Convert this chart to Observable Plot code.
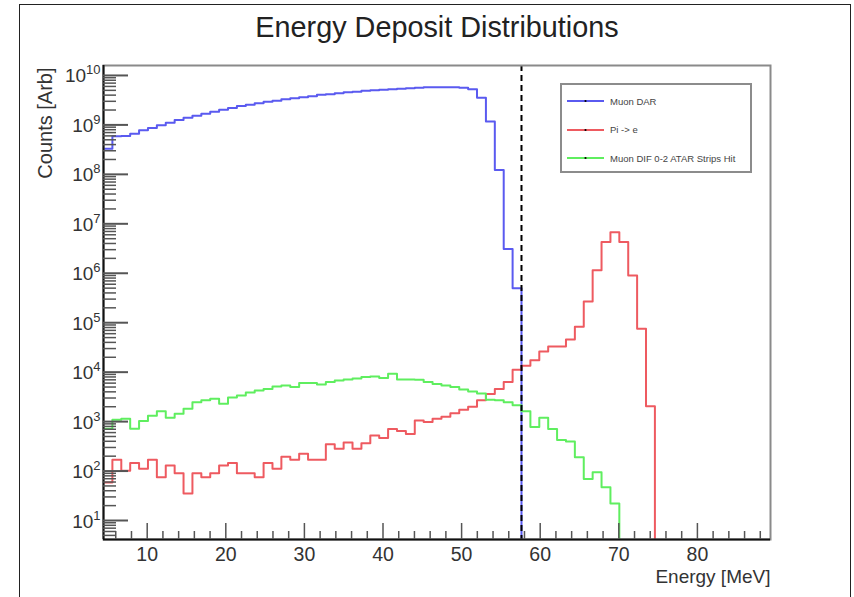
<!DOCTYPE html>
<html>
<head>
<meta charset="utf-8">
<script src="https://cdn.jsdelivr.net/npm/d3@7"></script>
<script src="https://cdn.jsdelivr.net/npm/@observablehq/plot@0.6"></script>
<style>
  html, body { margin: 0; padding: 0; background: #fff; }
  #canvas { position: relative; width: 854px; height: 597px; overflow: hidden;
            font-family: "Liberation Sans", Arial, Helvetica, sans-serif; }
  #pad { position: absolute; left: 19px; top: 4px; width: 832px; height: 640px;
         border: 1.5px solid #222; box-sizing: border-box; }
  #chart { position: absolute; left: 0; top: 0; }
  #legend { position: absolute; left: 560px; top: 83px; width: 192px; height: 90px;
            border: 2px solid #8c8c8c; box-sizing: border-box; background: #fff; }
  .entry { position: absolute; left: 5px; height: 10px; display: flex; align-items: center;
           font-size: 9.5px; color: #444; white-space: nowrap; }
  .entry svg { margin-right: 6px; }
</style>
</head>
<body>
<div id="canvas">
  <div id="pad"></div>
  <div id="chart"></div>
  <div id="legend"></div>
</div>
<script>
// Histogram binning (MeV)
const binStart = 4.44;
const binWidth = 1.1315;
const xMax = 89.3;

// Bin contents, one value per bin starting at binStart
const muonDAR = [
  3.3e8, 5.9e8, 6.0e8, 6.6e8, 7.8e8, 8.7e8, 9.8e8, 1.10e9, 1.26e9, 1.40e9,
  1.53e9, 1.68e9, 1.85e9, 2.02e9, 2.19e9, 2.40e9, 2.57e9, 2.75e9, 2.95e9, 3.09e9,
  3.31e9, 3.47e9, 3.63e9, 3.80e9, 4.07e9, 4.17e9, 4.37e9, 4.57e9, 4.68e9, 4.90e9,
  5.01e9, 5.13e9, 5.25e9, 5.37e9, 5.50e9, 5.62e9, 5.75e9, 5.75e9, 5.75e9, 5.75e9,
  5.62e9, 5.25e9, 3.55e9, 1.17e9, 1.23e8, 3.1e6, 5.0e5
];
const piToE = [
  59, 169, 102, 145, 111, 169, 75, 129, 90, 35,
  90, 75, 90, 129, 145, 90, 90, 75, 145, 111,
  195, 169, 224, 169, 169, 347, 282, 380, 282, 363,
  525, 468, 708, 646, 562, 1047, 977, 1148, 1259, 1479,
  1738, 1995, 2692, 3631, 4571, 6310, 11220, 13490, 17380, 26300,
  33100, 33100, 45700, 83200, 269000, 1150000, 4270000, 6760000, 4270000, 902000,
  75900, 2040
];
const muonDIF = [
  716, 1096, 1148, 716, 1023, 1318, 1622, 1202, 1445, 1820,
  2455, 2692, 2884, 2291, 3090, 3388, 3890, 4266, 4571, 5129,
  5370, 5012, 6026, 6026, 5623, 6310, 6761, 7079, 7413, 7943,
  8128, 7586, 9333, 7079, 7079, 7000, 6310, 5754, 5370, 5012,
  4467, 4074, 3715, 2754, 2692, 2455, 2138, 1622, 776, 1202,
  708, 427, 398, 191, 69, 95, 47, 22
];

// Energy cut drawn as a dashed line
const cutEnergy = [57.62];

// Series names and colours
const seriesNames = ["Muon DAR", "Pi -> e", "Muon DIF 0-2 ATAR Strips Hit"];
const seriesColors = ["#5a5af0", "#ee5a60", "#5fee5f"];

// Axis ticks
const xTickLabels = [10, 20, 30, 40, 50, 60, 70, 80];
const xMinorTicks = [6, 8, 12, 14, 16, 18, 22, 24, 26, 28, 32, 34, 36, 38, 42, 44, 46, 48,
                     52, 54, 56, 58, 62, 64, 66, 68, 72, 74, 76, 78, 82, 84, 86, 88];
const yDecades = [1, 2, 3, 4, 5, 6, 7, 8, 9, 10];
const yMin = 4.13, yMax = 1.59e10;

const W = 854, H = 597;
const mL = 103, mR = 84, mT = 65, mB = 58;
const frameW = W - mL - mR, frameH = H - mT - mB;
const font = "Liberation Sans, Arial, Helvetica, sans-serif";

// Minor log ticks 2..9 in each decade inside the visible range
const yMinorTicks = [];
for (let n = 0; n <= 10; n++) for (let k = 2; k <= 9; k++) {
  const v = k * 10 ** n;
  if (v >= yMin && v <= yMax) yMinorTicks.push(v);
}

// Step outline of a histogram: one point per bin lower edge, closing at the floor
function histPoints(counts) {
  const pts = counts.map((c, i) => ({x: binStart + i * binWidth, y: c}));
  pts.push({x: binStart + counts.length * binWidth, y: yMin});
  return pts;
}
const series = [muonDAR, piToE, muonDIF];

const plot = Plot.plot({
  width: W, height: H,
  marginLeft: mL, marginRight: mR, marginTop: mT, marginBottom: mB,
  style: {fontFamily: font, background: "transparent", overflow: "visible"},
  x: {domain: [binStart, xMax], axis: null},
  y: {type: "log", domain: [yMin, yMax], axis: null},
  marks: [
    // histograms
    ...series.map((s, i) => Plot.line(histPoints(s), {
      x: "x", y: "y", curve: "step-after", stroke: seriesColors[i], strokeWidth: 2, clip: true
    })),
    // energy cut
    Plot.ruleX(cutEnergy, {stroke: "#000", strokeWidth: 2, strokeDasharray: "6,4"}),
    // frame: grey top/right, black axes
    Plot.frame({stroke: "#8a8a8a", strokeWidth: 2}),
    Plot.ruleX([binStart], {stroke: "#111", strokeWidth: 2}),
    Plot.ruleY([yMin], {stroke: "#111", strokeWidth: 2}),
    // y ticks (inside)
    Plot.ruleY(yDecades.map(d => 10 ** d), {stroke: "#555", strokeWidth: 2, insetRight: frameW - 25}),
    Plot.ruleY(yMinorTicks, {stroke: "#555", strokeWidth: 1.5, insetRight: frameW - 13}),
    // x ticks (inside)
    Plot.ruleX(xTickLabels, {stroke: "#555", strokeWidth: 1.5, insetTop: frameH - 16}),
    Plot.ruleX(xMinorTicks, {stroke: "#555", strokeWidth: 1.5, insetTop: frameH - 8}),
    // x tick labels
    Plot.text(xTickLabels, {x: d => d, frameAnchor: "bottom", dy: 21.5, lineAnchor: "bottom",
      fontSize: 19.5, fill: "#333"}),
    // y tick labels (10^n)
    Plot.text(yDecades, {y: d => 10 ** d, frameAnchor: "left", dx: -3, dy: 7, textAnchor: "end",
      lineAnchor: "bottom", text: d => "10^" + d, fontSize: 19, fill: "#333"}),
    // titles
    Plot.text(["Energy Deposit Distributions"], {frameAnchor: "top", dy: -29, lineAnchor: "bottom",
      fontSize: 28.8, fill: "#222"}),
    Plot.text(["Counts [Arb]"], {frameAnchor: "top-left", rotate: -90, textAnchor: "end",
      lineAnchor: "bottom", dx: -52, dy: 2, fontSize: 20, fill: "#333"}),
    Plot.text(["Energy [MeV]"], {frameAnchor: "bottom-right", textAnchor: "end",
      lineAnchor: "bottom", dy: 43, fontSize: 19, fill: "#333"})
  ]
});
document.getElementById("chart").appendChild(plot);

// Typeset the decade labels with a raised exponent
d3.select(plot).selectAll("text").each(function () {
  const s = this.textContent;
  if (!s.includes("^")) return;
  const [base, exp] = s.split("^");
  const t = d3.select(this).text(base);
  t.append("tspan").attr("dy", "-8").attr("font-size", 13).text(exp);
});

// Legend
const legend = d3.select("#legend");
seriesNames.forEach((name, i) => {
  const row = legend.append("div").attr("class", "entry").style("top", `${11 + i * 28.5}px`);
  const svg = row.append("svg").attr("width", 37).attr("height", 6);
  svg.append("line").attr("x1", 0).attr("x2", 37).attr("y1", 3).attr("y2", 3)
    .attr("stroke", seriesColors[i]).attr("stroke-width", 2);
  svg.append("circle").attr("cx", 18.5).attr("cy", 3).attr("r", 1.1).attr("fill", "#000");
  row.append("span").text(name);
});
</script>
</body>
</html>
